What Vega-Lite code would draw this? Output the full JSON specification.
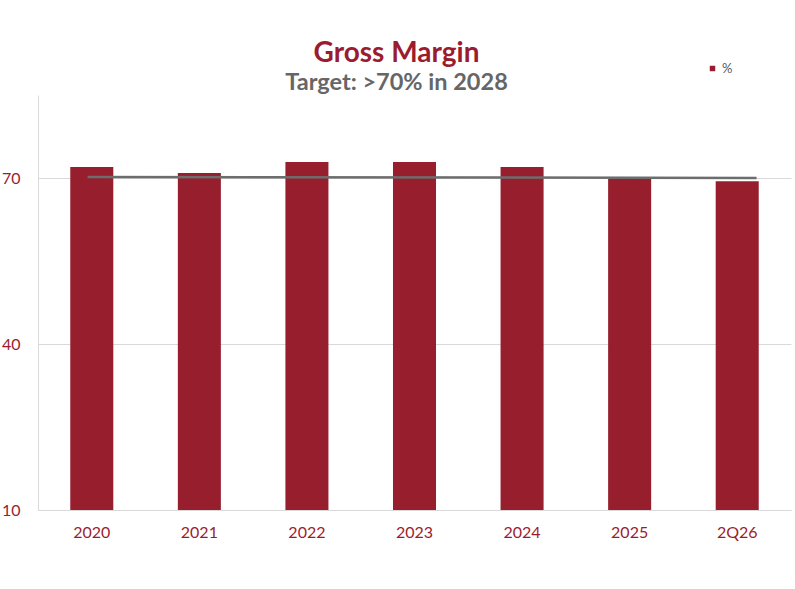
{
  "$schema": "https://vega.github.io/schema/vega-lite/v6.json",
  "width": 753,
  "height": 415,
  "autosize": {"type": "none"},
  "padding": {"left": 38, "top": 95, "right": 4, "bottom": 79},
  "background": "white",
  "view": {"stroke": null},
  "title": {
    "text": "Gross Margin",
    "subtitle": "Target: >70% in 2028",
    "anchor": "middle",
    "dx": -18,
    "offset": -32,
    "font": "Lato",
    "fontSize": 28,
    "fontWeight": "bold",
    "color": "#9b1c2e",
    "subtitleFont": "Lato",
    "subtitleFontSize": 23.5,
    "subtitleFontWeight": "bold",
    "subtitleColor": "#666666",
    "subtitlePadding": 3
  },
  "layer": [
    {
      "data": {
        "values": [
          {"year": "2020", "pct": 72.0, "series": "%"},
          {"year": "2021", "pct": 70.9, "series": "%"},
          {"year": "2022", "pct": 72.9, "series": "%"},
          {"year": "2023", "pct": 72.9, "series": "%"},
          {"year": "2024", "pct": 72.0, "series": "%"},
          {"year": "2025", "pct": 69.9, "series": "%"},
          {"year": "2Q26", "pct": 69.4, "series": "%"}
        ]
      },
      "mark": {"type": "bar", "clip": true},
      "encoding": {
        "x": {
          "field": "year",
          "type": "nominal",
          "scale": {"paddingInner": 0.6, "paddingOuter": 0.3},
          "axis": {
            "title": null,
            "labelAngle": 0,
            "ticks": false,
            "domainColor": "#d9d9d9",
            "labelPadding": 14,
            "labelFont": "Lato",
            "labelFontSize": 16,
            "labelColor": "#9b1c2e"
          }
        },
        "y": {
          "field": "pct",
          "type": "quantitative",
          "scale": {"domain": [10, 85], "nice": false, "zero": false},
          "axis": {
            "title": null,
            "values": [10, 40, 70],
            "ticks": false,
            "domain": true,
            "domainColor": "#d9d9d9",
            "gridColor": "#d9d9d9",
            "labelPadding": 18,
            "labelFont": "Lato",
            "labelFontSize": 16,
            "labelColor": "#9b1c2e"
          }
        },
        "color": {
          "field": "series",
          "type": "nominal",
          "scale": {"range": ["#961e2d"]},
          "legend": {
            "title": null,
            "orient": "none",
            "legendX": 668,
            "legendY": -33,
            "symbolType": "square",
            "symbolSize": 30,
            "labelFont": "Lato",
            "labelFontSize": 13,
            "labelColor": "#595959",
            "labelOffset": 3
          }
        }
      }
    },
    {
      "data": {
        "values": [
          {"from": "2020", "to": "2Q26", "start": 70.2, "end": 70.0}
        ]
      },
      "mark": {"type": "rule", "color": "#6d6d6d", "strokeWidth": 2.5},
      "encoding": {
        "x": {"field": "from", "type": "nominal", "bandPosition": 0.4},
        "x2": {"field": "to", "bandPosition": 0.95},
        "y": {"field": "start", "type": "quantitative"},
        "y2": {"field": "end"}
      }
    }
  ]
}
